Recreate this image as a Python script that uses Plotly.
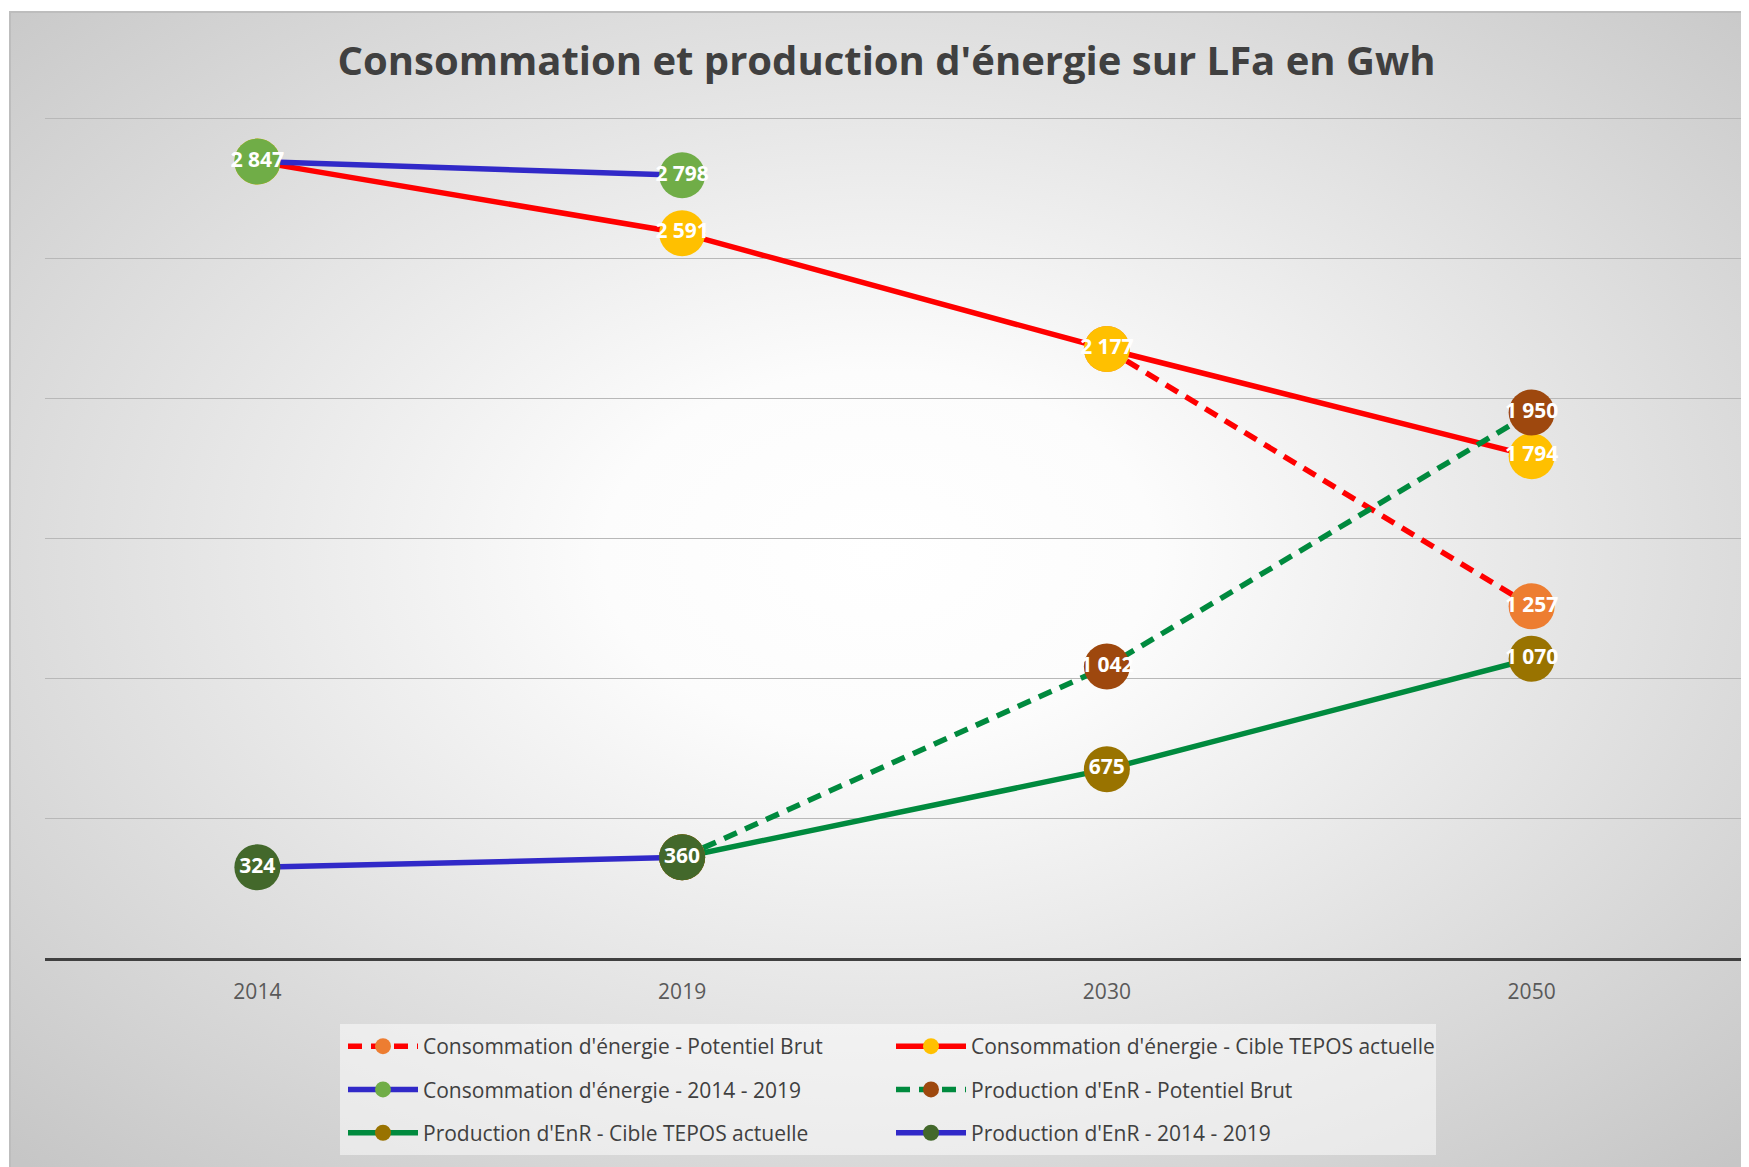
import base64
import plotly.graph_objects as go

# Données (GWh)
annees = ["2014", "2019", "2030", "2050"]

conso_potentiel_brut = [None, None, 2177, 1257]
conso_cible_tepos = [2847, 2591, 2177, 1794]
conso_2014_2019 = [2847, 2798, None, None]

prod_potentiel_brut = [None, 360, 1042, 1950]
prod_cible_tepos = [None, 360, 675, 1070]
prod_2014_2019 = [324, 360, None, None]

# la page ajoute 8 px de marge autour du graphique
OFF = 8
W, H = 1749 - OFF, 1167 - OFF
ML, MR, MT, MB = 37, 5, 108, 209
PW, PH = W - ML - MR, H - MT - MB


def px_x(p):
    return (p - OFF - ML) / PW


def px_y(p):
    return (H - MB - (p - OFF)) / PH


def labels(vals):
    return ["" if v is None else f"{v:,}".replace(",", " ") for v in vals]


# fond dégradé radial façon Excel + cadre de la légende
svg = (
    '<svg xmlns="http://www.w3.org/2000/svg" width="1740" height="1156" '
    'viewBox="0 0 1740 1156" preserveAspectRatio="none"><defs>'
    '<radialGradient id="g" cx="0.5" cy="0.47" r="0.72">'
    '<stop offset="0" stop-color="#ffffff"/>'
    '<stop offset="0.22" stop-color="#fcfcfc"/>'
    '<stop offset="1" stop-color="#c6c6c6"/>'
    '</radialGradient></defs>'
    '<rect width="1740" height="1156" fill="url(#g)"/>'
    '<path d="M1 1156 L1 1 L1740 1" fill="none" stroke="#bdbdbd" stroke-width="2"/>'
    '<rect x="331" y="1013" width="1096" height="131" fill="#ffffff" fill-opacity="0.5"/>'
    '</svg>'
)
bg_src = "data:image/svg+xml;base64," + base64.b64encode(svg.encode()).decode()

series = [
    ("Consommation d'énergie - Potentiel Brut", conso_potentiel_brut, "#FF0000", "14px,9px", "#ED7D31", "legend"),
    ("Consommation d'énergie - Cible TEPOS actuelle", conso_cible_tepos, "#FF0000", "solid", "#FFC000", "legend2"),
    ("Consommation d'énergie - 2014 - 2019", conso_2014_2019, "#3129C8", "solid", "#70AD47", "legend"),
    ("Production d'EnR - Potentiel Brut", prod_potentiel_brut, "#008A3E", "14px,9px", "#9E480E", "legend2"),
    ("Production d'EnR - Cible TEPOS actuelle", prod_cible_tepos, "#008A3E", "solid", "#997300", "legend"),
    ("Production d'EnR - 2014 - 2019", prod_2014_2019, "#3129C8", "solid", "#43682B", "legend2"),
]

fig = go.Figure()
for i, (name, vals, lc, dash, mc, leg) in enumerate(series):
    fig.add_trace(go.Scatter(
        x=annees, y=vals, name=name,
        mode="lines+markers+text",
        line=dict(color=lc, width=5.5, dash=dash),
        marker=dict(color=mc, size=46),
        text=labels(vals),
        textposition="middle center",
        textfont=dict(family="Open Sans", size=21, color="white", weight="bold"),
        cliponaxis=False,
        legend=leg, legendgroup=f"g{i}",
    ))

leg_style = dict(
    orientation="v",
    xanchor="left", yanchor="top",
    itemwidth=70,
    bgcolor="rgba(0,0,0,0)",
    font=dict(family="Open Sans", size=21, color="#404040"),
    tracegroupgap=13,
)

fig.update_layout(
    width=W, height=H,
    margin=dict(l=ML, r=MR, t=MT, b=MB),
    paper_bgcolor="white",
    plot_bgcolor="rgba(0,0,0,0)",
    font=dict(family="Open Sans", color="#404040"),
    title=dict(
        text="<b>Consommation et production d'énergie sur LFa en Gwh</b>",
        x=(886.5 - OFF) / W, xanchor="center", y=1 - 53 / H, yanchor="middle",
        font=dict(family="Open Sans", size=40, color="#404040"),
    ),
    showlegend=True,
    legend=dict(x=px_x(343), y=px_y(1026), **leg_style),
    legend2=dict(x=px_x(891), y=px_y(1026), **leg_style),
    images=[dict(
        source=bg_src, xref="paper", yref="paper",
        x=px_x(9), y=px_y(11),
        sizex=px_x(1749) - px_x(9), sizey=px_y(11) - px_y(1167),
        xanchor="left", yanchor="top", sizing="stretch", layer="below",
    )],
)

fig.update_xaxes(
    type="category", range=[-0.5, 3.5],
    showgrid=False,
    showline=True, linecolor="#404040", linewidth=3,
    ticks="", ticklabelstandoff=13,
    tickfont=dict(family="Open Sans", size=21, color="#595959"),
)
fig.update_yaxes(
    range=[0, 3010], dtick=500,
    showgrid=True, gridcolor="#b8b8b8", gridwidth=1,
    zeroline=False, showticklabels=False, showline=False,
)

fig.write_html("out.html")
